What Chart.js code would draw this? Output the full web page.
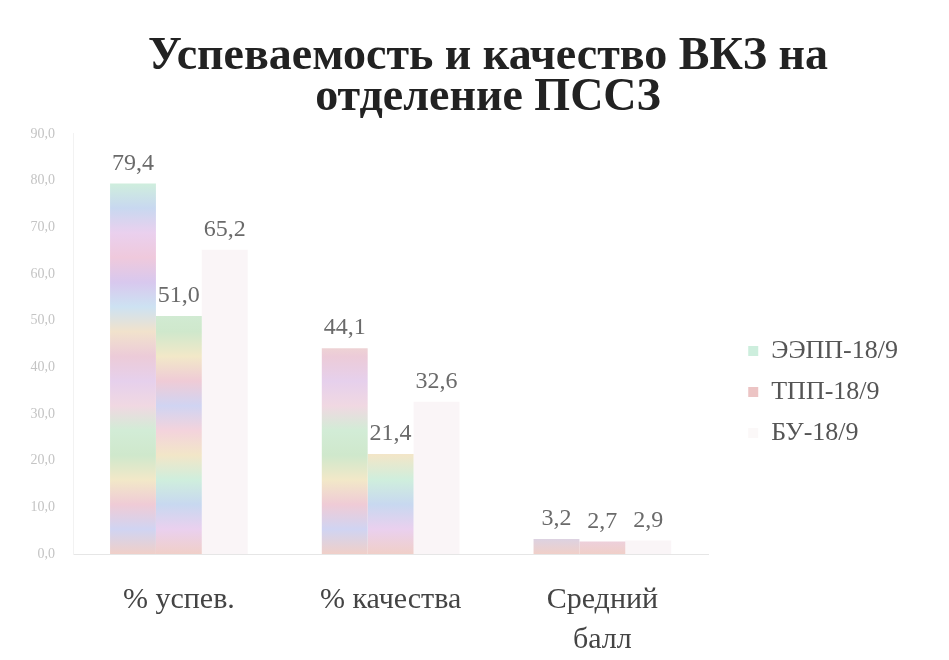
<!DOCTYPE html>
<html>
<head>
<meta charset="utf-8">
<script src="https://cdn.jsdelivr.net/npm/chart.js@4"></script>
<style>
  body { margin: 0; background: #fff; }
  #wrap { width: 949px; height: 660px; }
</style>
</head>
<body>
<div id="wrap"><canvas id="chart" width="949" height="660"></canvas></div>
<script>
const categories = [['% успев.'], ['% качества'], ['Средний', 'балл']];
const groupNames = ['ЭЭПП-18/9', 'ТПП-18/9', 'БУ-18/9'];
const eeppValues = [79.4, 44.1, 3.2];
const tppValues = [51.0, 21.4, 2.7];
const buValues = [65.2, 32.6, 2.9];
const yTicks = [0, 10, 20, 30, 40, 50, 60, 70, 80, 90];

const legendColors = ['#cdeedd', '#ecc4c4', '#fbf8f8'];
// scanned bars look like pastel bands, so a banded gradient
const bandColors = ['#f3d3dc', '#f2e6c8', '#cfeedd', '#c8d8f0', '#ead0ee', '#efc9dc',
  '#d8c8ee', '#cde2f2', '#f1e2cc', '#eccbd8', '#e6d0ec', '#f0d8e2',
  '#d2ecd6', '#cfe8cc', '#f2e8c8', '#efcbd6', '#d0d4f2', '#f0cfc8'];

function bandGradient(ctx, shift, fallback) {
  const area = ctx.chart.chartArea;
  if (!area) return fallback;
  const g = ctx.chart.ctx.createLinearGradient(0, area.top, 0, area.bottom);
  const n = bandColors.length;
  for (let i = 0; i < n - 1; i++) {
    g.addColorStop(i / (n - 1), bandColors[(i + shift) % (n - 1)]);
  }
  g.addColorStop(1, bandColors[n - 1]);
  return g;
}

const fmt = v => v.toFixed(1).replace('.', ',');

const valueLabels = {
  id: 'valueLabels',
  afterDatasetsDraw(chart) {
    const c = chart.ctx;
    c.save();
    c.font = '24px "Liberation Serif", serif';
    c.fillStyle = '#6a6a6a';
    c.textAlign = 'center';
    c.textBaseline = 'bottom';
    chart.data.datasets.forEach((ds, i) => {
      chart.getDatasetMeta(i).data.forEach((bar, j) => {
        c.fillText(fmt(ds.data[j]), bar.x, bar.y - 8);
      });
    });
    c.restore();
  }
};

// move legend and title to where they sit in the picture
const boxShift = {
  id: 'boxShift',
  afterLayout(chart) {
    const lg = chart.legend;
    lg.top += 58; lg.bottom += 58;
    lg.left += 25; lg.right += 25;
    const t = chart.titleBlock;
    t.left += 40; t.right += 40;
  }
};

new Chart(document.getElementById('chart'), {
  type: 'bar',
  data: {
    labels: categories,
    datasets: [
      { label: groupNames[0], data: eeppValues, backgroundColor: ctx => bandGradient(ctx, 0, legendColors[0]) },
      { label: groupNames[1], data: tppValues, backgroundColor: ctx => bandGradient(ctx, 5, legendColors[1]) },
      { label: groupNames[2], data: buValues, backgroundColor: 'rgba(246,236,240,0.55)' }
    ]
  },
  options: {
    responsive: false,
    animation: false,
    layout: { padding: { left: 13, right: 66, top: 10, bottom: 2 } },
    datasets: { bar: { categoryPercentage: 0.65, barPercentage: 1.0, borderWidth: 0 } },
    plugins: {
      title: {
        display: true,
        text: ['Успеваемость и качество ВКЗ на', 'отделение ПССЗ'],
        color: '#222',
        font: { family: '"Liberation Serif", serif', size: 46, weight: 'bold', lineHeight: 0.88 },
        padding: { top: 27, bottom: 16 }
      },
      legend: {
        position: 'right',
        labels: {
          color: '#555',
          font: { family: '"Liberation Serif", serif', size: 26 },
          boxWidth: 10,
          boxHeight: 10,
          padding: 15,
          generateLabels(chart) {
            const items = Chart.defaults.plugins.legend.labels.generateLabels(chart);
            items.forEach((it, i) => { it.fillStyle = legendColors[i]; it.strokeStyle = legendColors[i]; it.lineWidth = 0; });
            return items;
          }
        }
      },
      tooltip: { enabled: false }
    },
    scales: {
      x: {
        afterFit(scale) { scale.height = 104; },
        grid: { display: false, drawTicks: false },
        border: { color: '#e6e6e6' },
        ticks: {
          color: '#444',
          font: { family: '"Liberation Serif", serif', size: 30, lineHeight: 1.33 },
          padding: 26
        }
      },
      y: {
        min: 0,
        max: 90,
        afterBuildTicks(scale) { scale.ticks = yTicks.map(v => ({ value: v })); },
        afterFit(scale) { scale.width = 60; },
        grid: { display: false },
        border: { color: '#f2f2f2' },
        ticks: {
          color: '#c4c4c4',
          font: { family: '"Liberation Serif", serif', size: 14 },
          padding: 10,
          callback: v => fmt(v)
        }
      }
    }
  },
  plugins: [valueLabels, boxShift]
});
</script>
</body>
</html>
